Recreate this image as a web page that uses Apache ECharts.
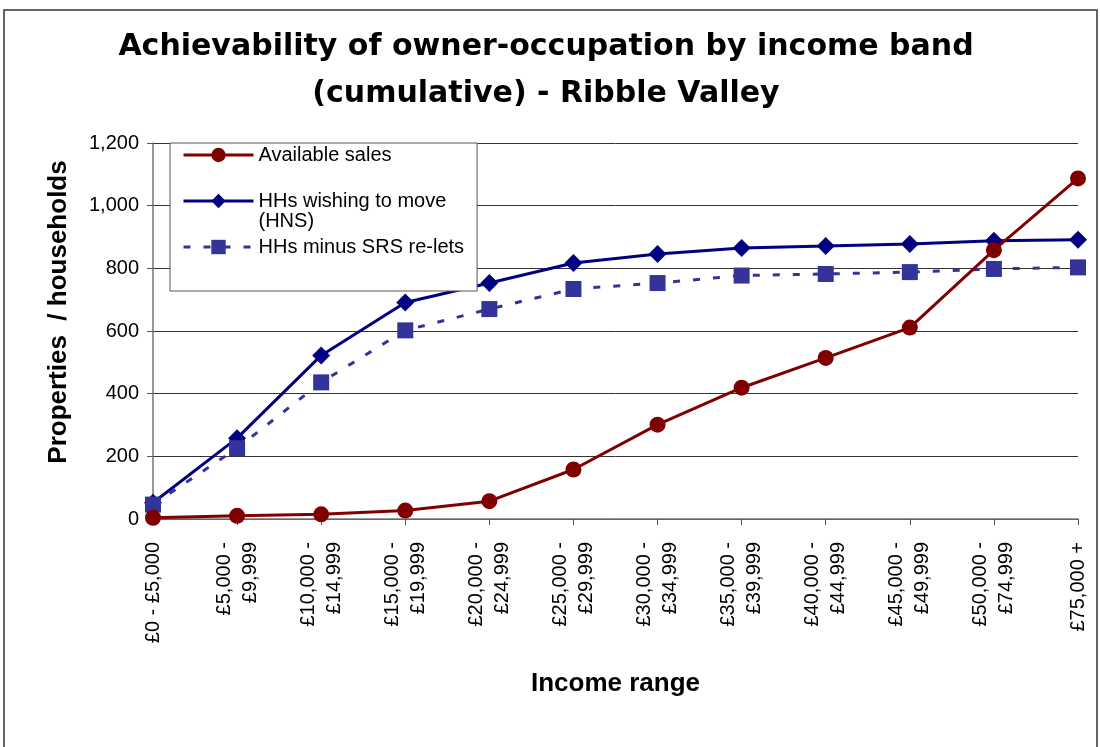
<!DOCTYPE html>
<html>
<head>
<meta charset="utf-8">
<script src="https://cdn.jsdelivr.net/npm/echarts@6/dist/echarts.min.js"></script>
<style>html,body{margin:0;padding:0;background:#fff}#c{width:1100px;height:747px}</style>
</head>
<body>
<div id="c"></div>
<script>
var categories = ['£0 - £5,000', '£5,000 -\n£9,999', '£10,000 -\n£14,999', '£15,000 -\n£19,999', '£20,000 -\n£24,999', '£25,000 -\n£29,999', '£30,000 -\n£34,999', '£35,000 -\n£39,999', '£40,000 -\n£44,999', '£45,000 -\n£49,999', '£50,000 -\n£74,999', '£75,000 +'];
var availableSales = [4, 10, 15, 27, 57, 158, 301, 419, 514, 611, 858, 1087];
var hhsWishingToMove = [52, 258, 522, 691, 753, 817, 846, 865, 871, 878, 888, 891];
var hhsMinusSRS = [46, 226, 436, 602, 670, 734, 753, 777, 782, 788, 798, 803];
var seriesNames = ['Available sales', 'HHs wishing to move\n(HNS)', 'HHs minus SRS re-lets'];

var FONT = '"Liberation Sans", Arial, sans-serif';
var chart = echarts.init(document.getElementById('c'), null, {renderer: 'canvas'});
chart.setOption({
  animation: false,
  backgroundColor: '#fff',
  graphic: [{
    type: 'rect', shape: {x: 4, y: 10, width: 1093, height: 760},
    style: {fill: 'none', stroke: '#333', lineWidth: 1.5}, silent: true, z: -1
  }],
  title: {
    text: 'Achievability of owner-occupation by income band\n(cumulative) - Ribble Valley',
    left: 541, top: 19, textAlign: 'center',
    textStyle: {fontFamily: '"DejaVu Sans", sans-serif', fontSize: 30, fontWeight: 'bold', color: '#000', lineHeight: 47}
  },
  legend: {
    orient: 'vertical', left: 170, top: 143,
    backgroundColor: '#fff', borderColor: '#555', borderWidth: 1,
    padding: [2, 13, 34, 12], itemGap: 6,
    itemWidth: 70, itemHeight: 18,
    lineStyle: {width: 3},
    textStyle: {fontFamily: FONT, fontSize: 20, color: '#000', lineHeight: 20},
    data: [
      {name: seriesNames[0]},
      {name: seriesNames[1]},
      {name: seriesNames[2]}
    ],
    formatter: function (n) { return n === seriesNames[1] ? '\u00a0\n' + n : n; }
  },
  grid: {left: 153, right: 22, top: 143, bottom: 228, containLabel: false},
  xAxis: {
    type: 'category', data: categories, boundaryGap: false,
    name: 'Income range', nameLocation: 'middle', nameGap: 152,
    nameTextStyle: {fontFamily: FONT, fontSize: 26, fontWeight: 'bold', color: '#000'},
    axisLine: {lineStyle: {color: '#777', width: 1.5}},
    axisTick: {show: true, alignWithLabel: true, length: 6, lineStyle: {color: '#555'}},
    axisLabel: {rotate: 90, margin: 23, interval: 0, fontFamily: FONT, fontSize: 20, color: '#000', lineHeight: 26},
    splitLine: {show: false}
  },
  yAxis: {
    type: 'value', min: 0, max: 1200, interval: 200,
    name: 'Properties  / households', nameLocation: 'middle', nameGap: 81,
    nameTextStyle: {fontFamily: FONT, fontSize: 26, fontWeight: 'bold', color: '#000', padding: [0, 0, 0, 38]},
    axisLine: {show: true, lineStyle: {color: '#777', width: 1.5}},
    axisTick: {show: true, length: 6, lineStyle: {color: '#555'}},
    axisLabel: {margin: 14, fontFamily: FONT, fontSize: 20, color: '#000',
      formatter: function (v) { return v.toLocaleString('en-GB'); }},
    splitLine: {show: true, lineStyle: {color: '#333', width: 1}}
  },
  series: [
    {
      name: seriesNames[0], type: 'line', data: availableSales,
      symbol: 'circle', symbolSize: 16,
      lineStyle: {color: '#800000', width: 3}, itemStyle: {color: '#800000'}, z: 3
    },
    {
      name: seriesNames[1], type: 'line', data: hhsWishingToMove,
      symbol: 'diamond', symbolSize: [18, 18],
      lineStyle: {color: '#000080', width: 3}, itemStyle: {color: '#000080'}, z: 2
    },
    {
      name: seriesNames[2], type: 'line', data: hhsMinusSRS,
      symbol: 'rect', symbolSize: 16,
      lineStyle: {color: '#333399', width: 3, type: [7, 13]}, itemStyle: {color: '#333399'}, z: 2
    }
  ]
});
</script>
</body>
</html>
